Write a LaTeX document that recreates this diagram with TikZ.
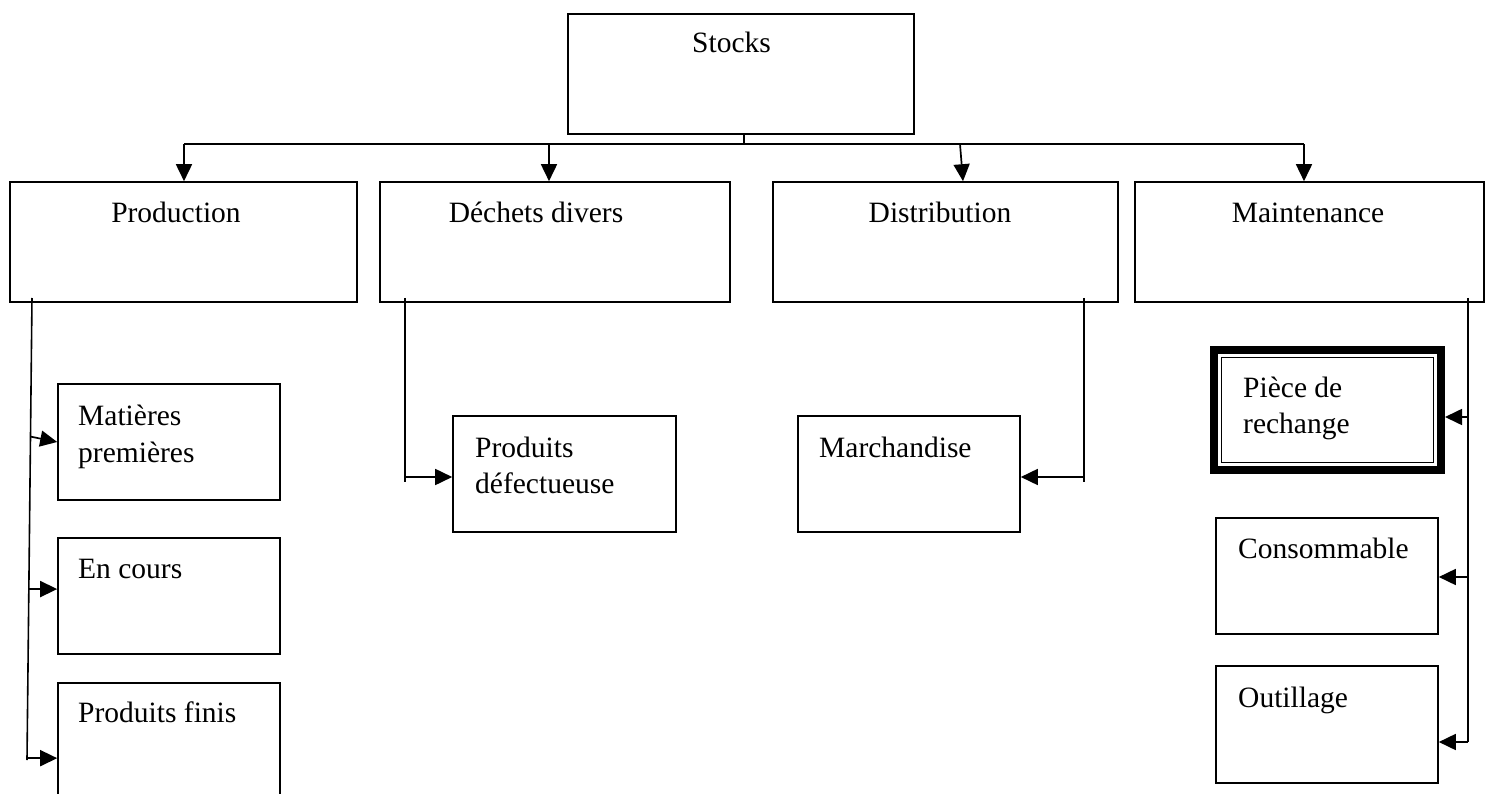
\documentclass[tikz,border=0pt]{standalone}
\usepackage{fontspec}
\setmainfont{Liberation Serif}
\usetikzlibrary{arrows.meta,calc}
\tikzset{
  box/.style={draw, line width=1.6pt, inner sep=0pt, rectangle},
  heavybox/.style={draw, line width=8pt, inner sep=0pt, rectangle},
  txt/.style={inner sep=0pt, font=\fontsize{29.5}{35}\selectfont},
  arr/.style={line width=1.7pt, -{Triangle[length=17pt,width=16pt]}},
  bus/.style={line width=1.6pt},
}
\begin{document}
\begin{tikzpicture}[x=1pt,y=-1pt]
\useasboundingbox (0,0) rectangle (1488,794);
% boxes
\node[box, minimum width=346pt, minimum height=120pt] (stocks) at (741,74) {};
\node[box, minimum width=347pt, minimum height=120pt] (prod) at (183.5,242) {};
\node[box, minimum width=350pt, minimum height=120pt] (dech) at (555,242) {};
\node[box, minimum width=345pt, minimum height=120pt] (dist) at (945.5,242) {};
\node[box, minimum width=349pt, minimum height=120pt] (maint) at (1309.5,242) {};
\node[box, minimum width=222pt, minimum height=116pt] (mat) at (169,442) {};
\node[box, minimum width=222pt, minimum height=116pt] (enc) at (169,596) {};
\node[box, minimum width=222pt, minimum height=117pt] (fin) at (169,741.5) {};
\node[box, minimum width=223pt, minimum height=116pt] (defect) at (564.5,474) {};
\node[box, minimum width=222pt, minimum height=116pt] (march) at (909,474) {};
\node[heavybox, minimum width=227pt, minimum height=120pt] (piece) at (1327.5,410) {};
\draw[line width=1.8pt] ($(piece.north west)+(11.5,11.5)$) rectangle ($(piece.south east)+(-11.5,-11.5)$);
\node[box, minimum width=222pt, minimum height=116pt] (cons) at (1327,576) {};
\node[box, minimum width=222pt, minimum height=117pt] (outil) at (1327,724.5) {};
% texts
\node[txt, anchor=base west] (tstocks) at (692,53) {Stocks};
\node[txt, anchor=base] (tprod) at (176,223) {Production};
\node[txt, anchor=base] (tdech) at (536,223) {Déchets divers};
\node[txt, anchor=base] (tdist) at (940,223) {Distribution};
\node[txt, anchor=base] (tmaint) at (1308,223) {Maintenance};
\node[txt, anchor=base west] (tmat1) at (78,425) {Matières};
\node[txt, anchor=base west] (tmat2) at (78,462) {premières};
\node[txt, anchor=base west] (tenc) at (78,578) {En cours};
\node[txt, anchor=base west] (tfin) at (78,722) {Produits finis};
\node[txt, anchor=base west] (tdef1) at (475,457) {Produits};
\node[txt, anchor=base west] (tdef2) at (475,493) {défectueuse};
\node[txt, anchor=base west] (tmarch) at (819,457) {Marchandise};
\node[txt, anchor=base west] (tpiece1) at (1243,397) {Pièce de};
\node[txt, anchor=base west] (tpiece2) at (1243,433) {rechange};
\node[txt, anchor=base west] (tcons) at (1238,558) {Consommable};
\node[txt, anchor=base west] (toutil) at (1238,707) {Outillage};
% top distribution
\coordinate (st) at (744,144);
\coordinate (bl) at (184,144);
\coordinate (b2) at (549,144);
\coordinate (b3) at (960,144);
\coordinate (br) at (1304,144);
\draw[bus] (stocks.south -| st) -- (st);
\draw[bus] (bl) -- (br);
\draw[arr] (bl) -- (bl |- prod.north);
\draw[arr] (b2) -- (b2 |- dech.north);
\draw[arr] (b3) -- ($(b3 |- dist.north)+(3,0)$);
\draw[arr] (br) -- (br |- maint.north);
% production branch
\coordinate (p0) at (32,298);
\coordinate (p1) at (27,760);
\draw[bus] (p0) -- (p1);
\coordinate (pa) at ($(p0)!0.30!(p1)$);
\coordinate (pb) at ($(p0)!0.63!(p1)$);
\coordinate (pc) at ($(p0)!0.996!(p1)$);
\draw[arr] (pa) -- (mat.west);
\draw[arr] (pb) -- (pb -| enc.west);
\draw[arr] (pc) -- (pc -| fin.west);
% dechets branch
\coordinate (d0) at (405,298);
\coordinate (d1) at (405,482);
\coordinate (da) at (405,477);
\draw[bus] (d0) -- (d1);
\draw[arr] (da) -- (da -| defect.west);
% distribution branch
\coordinate (t0) at (1084,298);
\coordinate (t1) at (1084,482);
\coordinate (ta) at (1084,477);
\draw[bus] (t0) -- (t1);
\draw[arr] (ta) -- (ta -| march.east);
% maintenance branch
\coordinate (m0) at (1468,298);
\coordinate (m1) at (1468,742);
\coordinate (ma) at (1468,417);
\coordinate (mb) at (1468,577);
\draw[bus] (m0) -- (m1);
\draw[arr] (ma) -- (ma -| piece.east);
\draw[arr] (mb) -- (mb -| cons.east);
\draw[arr] (m1) -- (m1 -| outil.east);
\end{tikzpicture}
\end{document}
